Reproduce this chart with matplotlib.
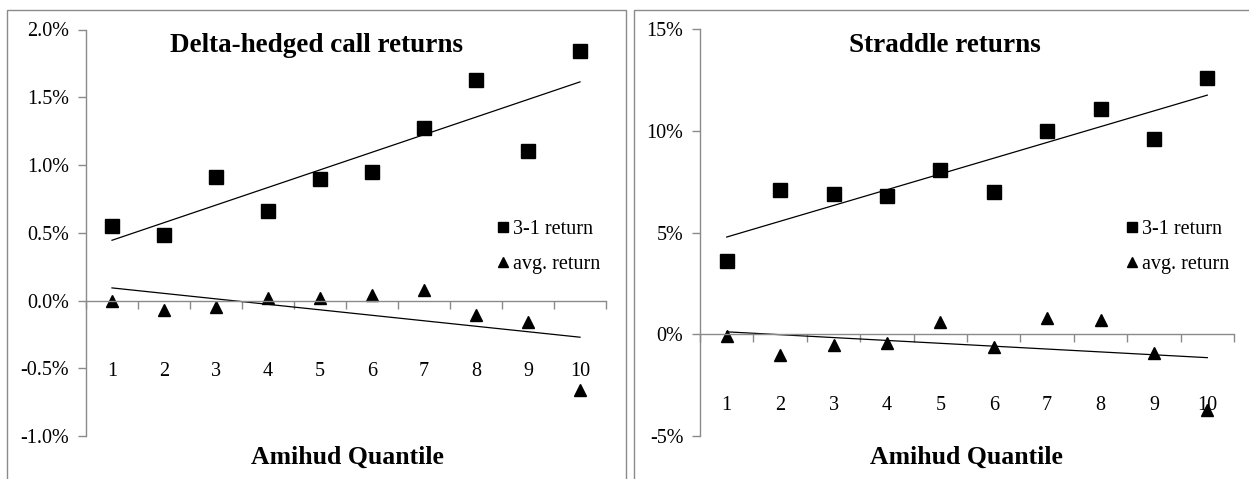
import numpy as np
import matplotlib
matplotlib.use("Agg")
import matplotlib.pyplot as plt
from matplotlib.patches import Rectangle
from matplotlib.ticker import FuncFormatter
from matplotlib import transforms

plt.rcParams['font.family'] = ['Liberation Serif', 'DejaVu Serif']

# Amihud quantiles and returns (in percent)
quantiles = np.arange(1, 11)
dh_spread = [0.55, 0.48, 0.91, 0.66, 0.90, 0.95, 1.27, 1.63, 1.10, 1.84]
dh_avg = [0.00, -0.07, -0.05, 0.02, 0.02, 0.04, 0.08, -0.11, -0.16, -0.66]
st_spread = [3.6, 7.1, 6.9, 6.8, 8.1, 7.0, 10.0, 11.1, 9.6, 12.6]
st_avg = [-0.1, -1.0, -0.5, -0.4, 0.6, -0.6, 0.8, 0.7, -0.9, -3.7]

W, H = 1249, 479
fig = plt.figure(figsize=(W / 100, H / 100), dpi=100)

grey = '#8a8a8a'

# panel frames
fig.patches.append(Rectangle((7 / W, -0.1), (626 - 7) / W, 1.1 - 9.5 / H,
                             transform=fig.transFigure, fill=False,
                             edgecolor=grey, linewidth=1.0))
fig.patches.append(Rectangle((634 / W, -0.1), 0.5, 1.1 - 9.5 / H,
                             transform=fig.transFigure, fill=False,
                             edgecolor=grey, linewidth=1.0))


def panel(rect, spread, avg, ylim, yticks, fmt, title, title_x, xlabel_x, leg_x):
    ax = fig.add_axes(rect)
    ax.plot(quantiles, spread, 's', color='black', markersize=9.6, label='3-1 return')
    ax.plot(quantiles, avg, '^', color='black', markersize=8.5, label='avg. return')

    # linear trend lines
    for ys in (spread, avg):
        b, a = np.polyfit(quantiles, ys, 1)
        ax.plot(quantiles[[0, -1]], a + b * quantiles[[0, -1]], color='black', linewidth=0.9)

    ax.set_xlim(0.5, 10.5)
    ax.set_ylim(*ylim)
    ax.set_yticks(yticks)
    ax.yaxis.set_major_formatter(FuncFormatter(fmt))
    ax.set_xticks(np.arange(0.5, 11, 1))
    ax.set_xticklabels([])

    for s in ('top', 'right'):
        ax.spines[s].set_visible(False)
    ax.spines['bottom'].set_position(('data', 0))
    for s in ('left', 'bottom'):
        ax.spines[s].set_color(grey)
        ax.spines[s].set_linewidth(1.0)
    ax.tick_params(axis='y', direction='out', length=6, width=1, color=grey,
                   labelsize=14.5, pad=6)
    ax.tick_params(axis='x', direction='out', length=6, width=1, color=grey)

    # category labels sit a fixed distance below the zero line
    lab_tr = transforms.offset_copy(ax.transData, fig=fig, y=-71, units='dots')
    for q in quantiles:
        ax.text(q, 0, str(q), transform=lab_tr, ha='center', va='center', fontsize=14.5)

    fig.text(title_x / W, 1 - 45 / H, title, ha='center', va='center',
             fontsize=19.5, fontweight='bold')
    fig.text(xlabel_x / W, 1 - 457 / H, 'Amihud Quantile', ha='center', va='center',
             fontsize=18.5, fontweight='bold')

    ax.legend(loc='center left', bbox_to_anchor=(leg_x, 0.465), frameon=False,
              fontsize=14.5, handlelength=0.7, handletextpad=0.15, borderpad=0,
              labelspacing=0.75, markerscale=0.8, borderaxespad=0)
    return ax


top = 1 - 29.5 / H
bottom = 1 - 436 / H
panel([86 / W, bottom, (606 - 86) / W, top - bottom], dh_spread, dh_avg,
      (-1.0, 2.0), np.arange(-1.0, 2.01, 0.5), lambda v, p: f'{v:.1f}%',
      'Delta-hedged call returns', 316, 347, 0.788)
panel([700 / W, bottom, (1234 - 700) / W, top - bottom], st_spread, st_avg,
      (-5, 15), np.arange(-5, 16, 5), lambda v, p: f'{v:.0f}%',
      'Straddle returns', 945, 966, 0.796)

fig.savefig('out.png', dpi=100)
